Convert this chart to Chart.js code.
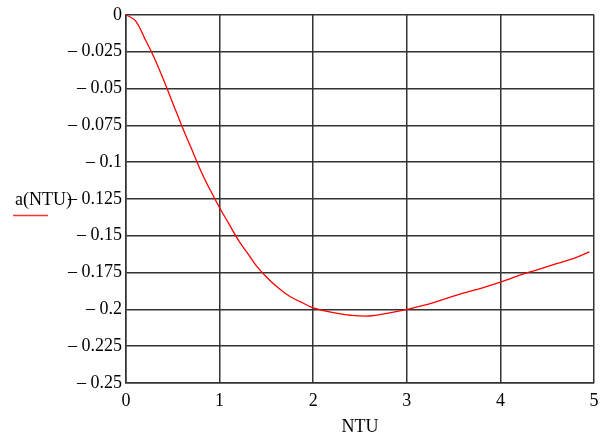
<!DOCTYPE html>
<html>
<head>
<meta charset="utf-8">
<script src="https://cdn.jsdelivr.net/npm/chart.js@4"></script>
<style>
  html, body { margin: 0; padding: 0; background: #fff; }
  #wrap { width: 610px; height: 436px; position: relative; }
</style>
</head>
<body>
<div id="wrap"><canvas id="ntuChart"></canvas></div>
<script>
// values
const ntu = [0, 0.1, 0.2, 0.3, 0.4, 0.5, 0.6, 0.7, 0.8, 0.9, 1.0, 1.1, 1.2, 1.3, 1.4, 1.5,
             1.6, 1.7, 1.8, 1.9, 2.0, 2.2, 2.4, 2.6, 2.8, 3.0, 3.2, 3.4, 3.6, 3.8, 4.0,
             4.2, 4.4, 4.6, 4.8, 4.95];
const aNtu = [0, -0.004, -0.016, -0.029, -0.044, -0.060, -0.076, -0.091, -0.106, -0.119, -0.131,
              -0.142, -0.153, -0.162, -0.171, -0.178, -0.184, -0.189, -0.193, -0.196, -0.199,
              -0.202, -0.204, -0.2045, -0.2025, -0.200, -0.197, -0.193, -0.189, -0.1855, -0.1815,
              -0.177, -0.173, -0.169, -0.165, -0.161];
const xTicks = [0, 1, 2, 3, 4, 5];
const yTicks = [0, -0.025, -0.05, -0.075, -0.1, -0.125, -0.15, -0.175, -0.2, -0.225, -0.25];
const seriesName = 'a(NTU)';
const xTitle = 'NTU';

const fontFam = '"Liberation Serif", "Times New Roman", serif';

function fmtY(v) {
    if (v === 0) return '0';
    return '\u2013 ' + String(Math.abs(v));
}

// legend label at the left, like the original
const sideLabel = {
    id: 'sideLabel',
    afterDraw(chart) {
        const c = chart.ctx;
        c.save();
        c.font = '18px ' + fontFam;
        c.fillStyle = '#000';
        c.textBaseline = 'alphabetic';
        c.textAlign = 'left';
        c.fillText(seriesName, 15, 205);
        c.strokeStyle = '#ff3333';
        c.lineWidth = 1.5;
        c.beginPath();
        c.moveTo(13, 215.5);
        c.lineTo(48, 215.5);
        c.stroke();
        c.restore();
    }
};

const ctx = document.getElementById('ntuChart').getContext('2d');
const ntuChart = new Chart(ctx, {
    type: 'line',
    data: {
        datasets: [{
            label: seriesName,
            data: ntu.map((x, i) => ({ x: x, y: aNtu[i] })),
            borderColor: '#ff0000',
            borderWidth: 1.3,
            pointRadius: 0,
            tension: 0.4,
            fill: false
        }]
    },
    options: {
        responsive: true,
        maintainAspectRatio: false,
        animation: false,
        layout: { padding: { left: 0, right: 16, top: 14, bottom: 0 } },
        plugins: {
            legend: { display: false },
            tooltip: { enabled: false }
        },
        scales: {
            x: {
                type: 'linear',
                min: 0,
                max: 5,
                afterBuildTicks: s => { s.ticks = xTicks.map(v => ({ value: v })); },
                ticks: {
                    color: '#000',
                    font: { family: fontFam, size: 18 },
                    padding: 7,
                    maxRotation: 0
                },
                grid: { color: '#333', lineWidth: 1.5, drawTicks: false },
                border: { color: '#333', width: 1.5 },
                title: {
                    display: true,
                    text: xTitle,
                    color: '#000',
                    font: { family: fontFam, size: 18, lineHeight: 1 },
                    padding: { top: 0, bottom: 0 }
                },
                afterFit: s => { s.height = 53; }
            },
            y: {
                type: 'linear',
                min: -0.25,
                max: 0,
                afterBuildTicks: s => { s.ticks = yTicks.map(v => ({ value: v })); },
                ticks: {
                    color: '#000',
                    font: { family: fontFam, size: 18 },
                    padding: 4,
                    callback: v => fmtY(v)
                },
                grid: { color: '#333', lineWidth: 1.5, drawTicks: false },
                border: { color: '#333', width: 1.5 },
                afterFit: s => { s.width = 126; }
            }
        }
    },
    plugins: [sideLabel]
});
</script>
</body>
</html>
